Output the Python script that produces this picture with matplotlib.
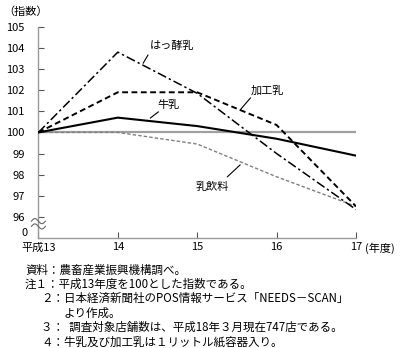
import numpy as np
import matplotlib
matplotlib.use("Agg")
import matplotlib.pyplot as plt

plt.rcParams['font.family'] = ['Noto Sans CJK JP', 'DejaVu Sans']
plt.rcParams['font.size'] = 8

# data (index, 平成13年度 = 100)
years = [13, 14, 15, 16, 17]
gyunyu = [100, 100.7, 100.3, 99.7, 98.9]        # 牛乳
kakonyu = [100, 101.9, 101.9, 100.35, 96.5]     # 加工乳
hakkonyu = [100, 103.8, 101.85, 99.0, 96.35]    # はっ酵乳
nyuinryo = [100, 100.0, 99.45, 97.9, 96.5]      # 乳飲料

yticks = [96, 97, 98, 99, 100, 101, 102, 103, 104, 105]
xlabels = ['平成13', '14', '15', '16', '17']

notes = [
    (25, '資料：農畜産業振興機構調べ。'),
    (25, '注１：平成13年度を100とした指数である。'),
    (41, '２：日本経済新聞社のPOS情報サービス「NEEDS－SCAN」'),
    (64, 'より作成。'),
    (41, '３：  調査対象店舗数は、平成18年３月現在747店である。'),
    (41, '４：牛乳及び加工乳は１リットル紙容器入り。'),
]

fig = plt.figure(figsize=(4.0, 3.48), dpi=100)
ax = fig.add_axes([0.096, 0.316, 0.794, 0.607])

ax.axhline(100, color='#a0a0a0', lw=1.6, zorder=1)
ax.plot(years, nyuinryo, color='#808080', lw=1.0, ls=(0, (2.5, 1.5)), zorder=2)
ax.plot(years, hakkonyu, color='black', lw=1.1, ls=(0, (6, 2, 1.5, 2)), zorder=3)
ax.plot(years, kakonyu, color='black', lw=1.4, ls=(0, (3, 1.8)), zorder=3)
ax.plot(years, gyunyu, color='black', lw=1.5, zorder=4)

ax.set_xlim(13, 17)
ax.set_ylim(95, 105)
ax.set_yticks(yticks)
ax.set_xticks(years)
ax.set_xticklabels(xlabels)
ax.tick_params(axis='both', direction='in', length=4, width=0.8, color='#555555')
ax.tick_params(axis='y', pad=10)
ax.tick_params(axis='x', pad=3)
for s in ['top', 'right']:
    ax.spines[s].set_visible(False)
for s in ['left', 'bottom']:
    ax.spines[s].set_color('#999999')
    ax.spines[s].set_linewidth(1.0)

# "0" at the bottom of the broken axis
ax.text(-0.035, 95.25, '0', transform=ax.get_yaxis_transform(), ha='right', va='center')

# axis break squiggle
t = np.linspace(0, 1, 40)
xs = -0.022 + 0.044 * t
for yb in [95.55, 95.8]:
    ax.plot(xs, yb + 0.12 * np.sin(t * 2 * np.pi), transform=ax.get_yaxis_transform(),
            color='#666666', lw=0.8, clip_on=False, zorder=5)

# series labels with leader lines
labels = [
    ('はっ酵乳', (14.32, 103.28), (14.68, 104.09), (14.38, 103.66)),
    ('加工乳', (15.54, 101.06), (15.88, 102.0), (15.67, 101.63)),
    ('牛乳', (14.41, 100.68), (14.64, 101.3), (14.51, 100.97)),
    ('乳飲料', (15.38, 97.9), (15.19, 97.42), (15.54, 98.46)),
]
for name, p0, pt, p1 in labels:
    ax.text(pt[0], pt[1], name, ha='center', va='center')
    ax.plot([p0[0], p1[0]], [p0[1], p1[1]], color='black', lw=0.8)

fig.text(3 / 400, 1 - 12 / 348, '（指数）', ha='left', va='center')
fig.text(365 / 400, 1 - 248 / 348, '(年度)', ha='left', va='center')

for i, (x, line) in enumerate(notes):
    fig.text(x / 400, 1 - (270 + i * 14.4) / 348, line, ha='left', va='center', fontsize=8.3)

fig.savefig('out.png', dpi=100)
